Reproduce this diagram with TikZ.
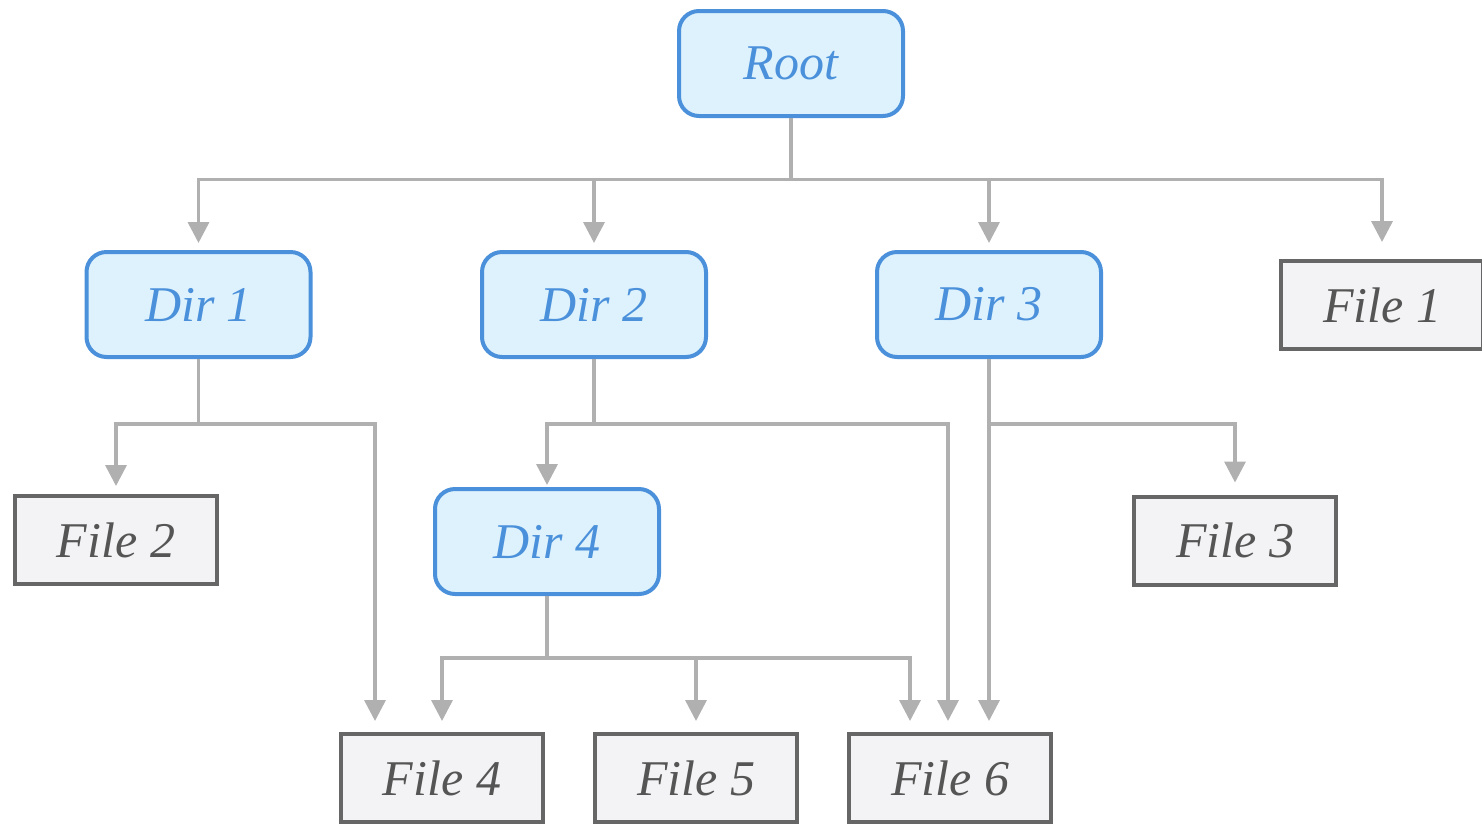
\documentclass[tikz,border=0pt]{standalone}
\usepackage{fontspec}
\setmainfont{Liberation Serif}
\usetikzlibrary{arrows.meta}
\definecolor{dirfill}{HTML}{DDF2FD}
\definecolor{dirline}{HTML}{4A90DA}
\definecolor{filefill}{HTML}{F3F3F5}
\definecolor{fileline}{HTML}{666666}
\definecolor{filetext}{HTML}{555555}
\definecolor{edge}{HTML}{B0B0B0}
\begin{document}
\begin{tikzpicture}[x=1pt,y=-1pt,
    every node/.style={font=\fontsize{50}{56}\selectfont\itshape},
    dirbox/.style={draw=dirline,fill=dirfill,text=dirline,line width=4pt,
      rounded corners=20pt,minimum width=224pt,minimum height=105pt},
    filebox/.style={draw=fileline,fill=filefill,text=filetext,line width=4pt,
      minimum width=202pt,minimum height=88pt},
    arr/.style={draw=edge,line width=3.5pt,-{Triangle[length=21pt,width=21pt]},
      shorten >=10pt}]
      \useasboundingbox (0,0) rectangle (1482,823);
      \draw
        (791,63.5) node[dirbox] (root){Root}
        (198.5,304.5) node[dirbox] (d1){Dir 1}
        (594,304.5) node[dirbox] (d2){Dir 2}
        (989,304.5) node[dirbox] (d3){Dir 3}
        (1382,305) node[filebox] (f1){File 1}
        (116,540) node[filebox] (f2){File 2}
        (547,541.5) node[dirbox] (d4){Dir 4}
        (1235,540.5) node[filebox] (f3){File 3}
        (442,778) node[filebox] (f4){File 4}
        (696,778) node[filebox] (f5){File 5}
        (950,778) node[filebox] (f6){File 6};
      \begin{scope}[arr]
        \draw[shorten >=7pt] (root.south) -- ++(0,61.5) -| (d1.north);
        \draw[shorten >=7pt] (root.south) -- ++(0,61.5) -| (d2.north);
        \draw[shorten >=7pt] (root.south) -- ++(0,61.5) -| (d3.north);
        \draw[shorten >=17pt] (root.south) -- ++(0,61.5) -| (f1.north);
        \draw[shorten >=8pt] (d1.south) -- ++(0,65) -| (f2.north);
        \draw[shorten >=11pt] (d1.south) -- ++(0,65) -| ([xshift=-67pt]f4.north);
        \draw[shorten >=2pt] (d2.south) -- ++(0,65) -| (d4.north);
        \draw[shorten >=11pt] (d2.south) -- ++(0,65) -| ([xshift=-2pt]f6.north);
        \draw[shorten >=12pt] (d3.south) -- ++(0,65) -| (f3.north);
        \draw[shorten >=11pt] (d3.south) -- (d3.south |- f6.north);
        \draw[shorten >=11pt] (d4.south) -- ++(0,62) -| (f4.north);
        \draw[shorten >=11pt] (d4.south) -- ++(0,62) -| (f5.north);
        \draw[shorten >=11pt] (d4.south) -- ++(0,62) -| ([xshift=-40pt]f6.north);
      \end{scope}
    \end{tikzpicture}
\end{document}
